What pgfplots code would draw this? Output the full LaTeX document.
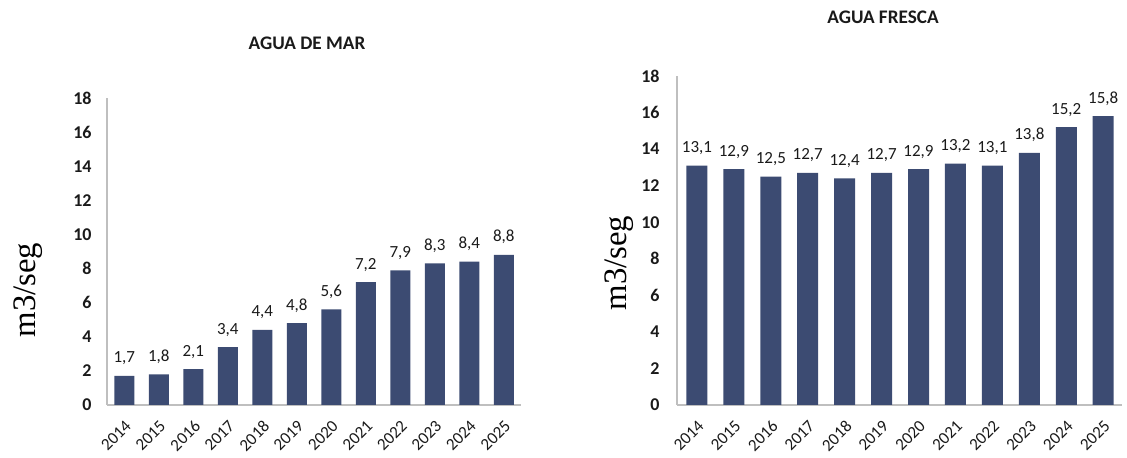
\documentclass[border=0pt]{standalone}
\usepackage{pgfplots}
\pgfplotsset{compat=1.18}
\usepackage{fontspec}
\setmainfont{Carlito}
\newfontfamily\serifm{Liberation Serif}
\definecolor{barblue}{HTML}{3C4B72}
\definecolor{axgray}{HTML}{BFBFBF}
\definecolor{txt}{HTML}{1A1A1A}

\pgfplotsset{
  aguabar/.style={
    scale only axis,
    anchor=south west,
    ymin=0, ymax=18, ytick={0,2,...,18},
    xtick={0,...,11},
    xticklabels={2014,2015,2016,2017,2018,2019,2020,2021,2022,2023,2024,2025},
    axis x line*=bottom, axis y line*=left,
    axis line style={draw=axgray, line width=0.75pt},
    major tick length=0pt,
    /pgf/number format/assume math mode=true,
    yticklabel style={font=\fontsize{9}{10}\selectfont\bfseries, text=txt, anchor=east, inner sep=0pt},
    xticklabel style={font=\fontsize{8.5}{9}\selectfont, text=txt, xshift=0pt, yshift=-7pt, rotate=45, anchor=north east, inner sep=0pt},
    nodes near coords,
    nodes near coords style={font=\fontsize{8.5}{9}\selectfont, text=txt, anchor=base, inner sep=0pt, yshift=6.5pt,
      /pgf/number format/.cd, fixed, fixed zerofill, precision=1, use comma},
    clip=false,
  }
}

\begin{document}
\begin{tikzpicture}
\useasboundingbox (0,0) rectangle (563.5pt,229pt);

% AGUA DE MAR
\begin{axis}[aguabar,
  at={(53.5pt,26.5pt)}, width=207pt, height=153.5pt,
  xmin=-0.5, xmax=11.5,
  yticklabel style={xshift=-7.5pt},
]
\addplot[ybar, bar width=10pt, fill=barblue, draw=none] coordinates {
  (0,1.7) (1,1.8) (2,2.1) (3,3.4) (4,4.4) (5,4.8)
  (6,5.6) (7,7.2) (8,7.9) (9,8.3) (10,8.4) (11,8.8)};
\end{axis}

% AGUA FRESCA
\begin{axis}[aguabar,
  at={(338.5pt,26.5pt)}, width=222.5pt, height=164.5pt,
  xmin=-0.54, xmax=11.51,
  yticklabel style={xshift=-8.5pt},
]
\addplot[ybar, bar width=10.5pt, fill=barblue, draw=none] coordinates {
  (0,13.1) (1,12.9) (2,12.5) (3,12.7) (4,12.4) (5,12.7)
  (6,12.9) (7,13.2) (8,13.1) (9,13.8) (10,15.2) (11,15.8)};
\end{axis}

\node[font=\fontsize{9.6}{11}\selectfont\bfseries, text=txt] at (153.5pt,207.5pt) {AGUA DE MAR};
\node[font=\fontsize{9.6}{11}\selectfont\bfseries, text=txt] at (441.5pt,220.5pt) {AGUA FRESCA};
\node[font=\serifm\fontsize{16.4}{18}\selectfont, rotate=90] at (14pt,84pt) {m3/seg};
\node[font=\serifm\fontsize{16.4}{18}\selectfont, rotate=90] at (309.5pt,97.5pt) {m3/seg};
\end{tikzpicture}
\end{document}
